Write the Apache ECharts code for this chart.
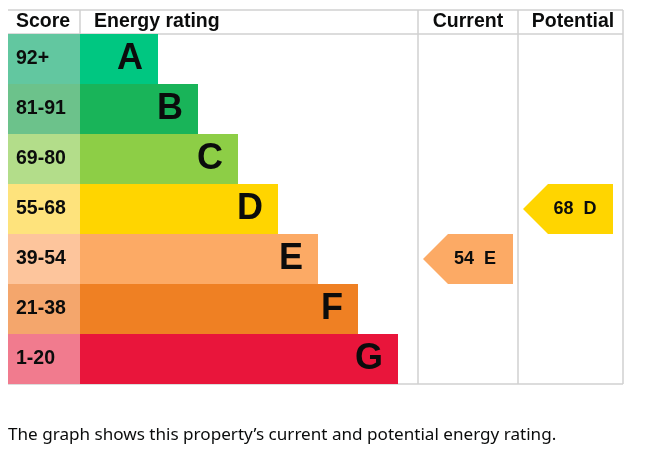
<!DOCTYPE html>
<html>
<head>
<meta charset="utf-8">
<script src="https://cdn.jsdelivr.net/npm/echarts@6/dist/echarts.min.js"></script>
<style>
html,body{margin:0;padding:0;background:#fff;}
#chart{width:648px;height:456px;}
</style>
</head>
<body>
<div id="chart"></div>
<script>
// ---- data ----
const ratings = ['A', 'B', 'C', 'D', 'E', 'F', 'G'];
const scoreRanges = ['92+', '81-91', '69-80', '55-68', '39-54', '21-38', '1-20'];
const barLengths = [78, 118, 158, 198, 238, 278, 318];
const currentScore = 54;
const currentBand = 'E';
const potentialScore = 68;
const potentialBand = 'D';
const headers = ['Score', 'Energy rating', 'Current', 'Potential'];
const caption = 'The graph shows this property\u2019s current and potential energy rating.';

// ---- styles ----
const bandColors = ['#00c781', '#19b459', '#8dce46', '#ffd500', '#fcaa65', '#ef8023', '#e9153b'];
const scoreColors = ['#62c7a0', '#6cc28b', '#b3dd8a', '#fee37c', '#fdc59c', '#f4a66c', '#f17b8e'];
const FAMILY = '"Liberation Sans", Arial, sans-serif';
const INK = '#0b0c0c';
const LINE = '#d0d0d0';

const SCORE_W = 72;            // score column width in axis units
const colLeft = [410, 510];    // current / potential column left edges (axis units)

const arrowData = [
  [0, ratings.indexOf(currentBand), currentScore],
  [1, ratings.indexOf(potentialBand), potentialScore]
];

const chart = echarts.init(document.getElementById('chart'));

function hline(x1, x2, y) {
  return { type: 'line', shape: { x1, y1: y, x2, y2: y }, style: { stroke: LINE, lineWidth: 1.5 }, silent: true };
}
function vline(x, y1, y2) {
  return { type: 'line', shape: { x1: x, y1, x2: x, y2 }, style: { stroke: LINE, lineWidth: 1.5 }, silent: true };
}
function htext(t, x, align) {
  return { type: 'text', x, y: 22, style: { text: t, font: 'bold 19.5px ' + FAMILY, fill: INK, align, verticalAlign: 'middle' } };
}

chart.setOption({
  animation: false,
  grid: { left: 8, top: 34, width: 615, height: 350 },
  xAxis: { type: 'value', min: 0, max: 615, show: false },
  yAxis: { type: 'category', data: ratings, inverse: true, show: false },
  graphic: [
    hline(8, 623, 10),
    hline(8, 623, 34),
    hline(8, 623, 384),
    vline(80, 10, 34),
    vline(418, 10, 384),
    vline(518, 10, 384),
    vline(623, 10, 384),
    htext(headers[0], 16, 'left'),
    htext(headers[1], 94, 'left'),
    htext(headers[2], 468, 'center'),
    htext(headers[3], 573, 'center'),
    { type: 'text', x: 8, y: 435, style: { text: caption, font: '17.1px "Noto Sans", sans-serif', fill: INK, align: 'left', verticalAlign: 'middle' } }
  ],
  series: [
    {
      type: 'bar', stack: 'r', barWidth: '100%', barCategoryGap: '0%',
      data: ratings.map(() => SCORE_W),
      itemStyle: { color: p => scoreColors[p.dataIndex] },
      label: {
        show: true, position: 'insideLeft', distance: 8,
        formatter: p => scoreRanges[p.dataIndex],
        fontFamily: FAMILY, fontWeight: 'bold', fontSize: 19.5, color: INK
      },
      silent: true
    },
    {
      type: 'bar', stack: 'r', barWidth: '100%', barCategoryGap: '0%',
      data: barLengths,
      itemStyle: { color: p => bandColors[p.dataIndex] },
      label: {
        show: true, position: 'insideRight', distance: 15,
        formatter: p => ratings[p.dataIndex],
        fontFamily: FAMILY, fontWeight: 'bold', fontSize: 36, color: INK
      },
      silent: true
    },
    {
      type: 'custom',
      data: arrowData,
      renderItem: function (params, api) {
        const ci = api.value(0), bi = api.value(1), score = api.value(2);
        const c = api.coord([colLeft[ci], bi]);
        const h = api.size([0, 1])[1];
        const x0 = c[0] + 5, x1 = x0 + 25, x2 = x0 + 90;
        const yT = c[1] - h / 2, yB = c[1] + h / 2;
        return {
          type: 'group',
          children: [
            { type: 'polygon', shape: { points: [[x0, c[1]], [x1, yT], [x2, yT], [x2, yB], [x1, yB]] }, style: { fill: bandColors[bi] } },
            { type: 'text', style: { text: score + '  ' + ratings[bi], x: x0 + 52, y: c[1], align: 'center', verticalAlign: 'middle', font: 'bold 18px ' + FAMILY, fill: INK } }
          ]
        };
      },
      silent: true
    }
  ]
});
</script>
</body>
</html>
